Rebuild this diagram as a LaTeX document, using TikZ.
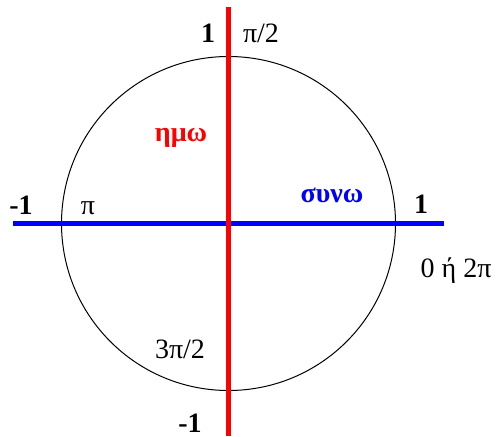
\documentclass[tikz,border=0pt]{standalone}
\usepackage{fontspec}
\setmainfont{Liberation Serif}
\usepackage{tikz}

\begin{document}
\begin{tikzpicture}[x=1pt,y=-1pt,font=\fontsize{28}{28}\selectfont]
    \useasboundingbox (0,0) rectangle (499,437);

    \coordinate (o) at (228.5,223.5);

    \coordinate (xl) at (13,223.5);
    \coordinate (xr) at (444,223.5);
    \coordinate (yt) at (228.5,7);
    \coordinate (yb) at (228.5,436);

    \draw [line width=1pt] (o) circle [radius=167];

    \draw [blue,line width=5.5pt] (xl) -- (xr);
    \draw [red,line width=5.5pt] (yt) -- (yb);

    \node [anchor=base,font=\fontsize{28}{28}\selectfont\bfseries] (ytop) at (208,42) {1};
    \node [anchor=base] (pihalf) at (261,42) {π/2};
    \node [anchor=base,font=\fontsize{28}{28}\selectfont\bfseries] (xleft) at (21,214) {-1};
    \node [anchor=base] (pi) at (88,214) {π};
    \node [anchor=base,font=\fontsize{28}{28}\selectfont\bfseries] (xright) at (421,213) {1};
    \node [anchor=base] (zero) at (456,277) {0 ή 2π};
    \node [anchor=base] (pithree) at (180,358) {3π/2};
    \node [anchor=base,font=\fontsize{28}{28}\selectfont\bfseries] (ybot) at (190,432) {-1};

    \node [anchor=base,red,font=\fontsize{28}{28}\selectfont\bfseries] (sin) at (181,141) {ημω};
    \node [anchor=base,blue,font=\fontsize{28}{28}\selectfont\bfseries] (cos) at (332,202) {συνω};

\end{tikzpicture}
\end{document}
